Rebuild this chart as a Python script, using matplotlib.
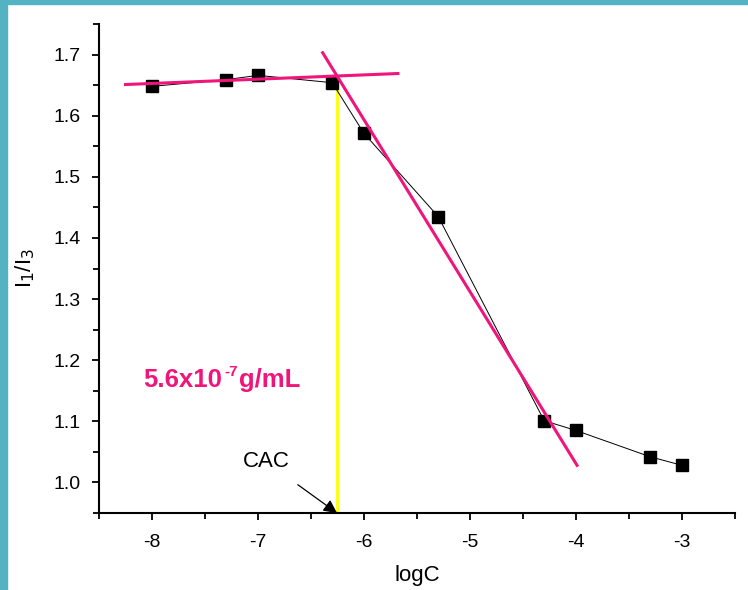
import matplotlib
matplotlib.use('Agg')
import matplotlib.pyplot as plt
from matplotlib.patches import Rectangle
from matplotlib.ticker import MultipleLocator

plt.rcParams['font.family'] = ['Liberation Sans', 'DejaVu Sans']
plt.rcParams['axes.unicode_minus'] = False

# measured points
log_c = [-8, -7.3, -7, -6.3, -6, -5.3, -4.3, -4, -3.3, -3]
ratio = [1.648, 1.659, 1.666, 1.654, 1.571, 1.435, 1.101, 1.085, 1.042, 1.028]

# fitted lines (end points)
flat_x = [-8.25, -5.68]
flat_y = [1.651, 1.669]
steep_x = [-6.39, -3.99]
steep_y = [1.703, 1.028]

cac_x = -6.255
cac_y = 1.664
pink = '#F0157A'

fig = plt.figure(figsize=(7.48, 5.9), dpi=100)
ax = fig.add_axes([0.1324, 0.1305, 0.8502, 0.8288])

ax.plot(log_c, ratio, color='black', lw=0.7, marker='s', ms=8.5, zorder=3)
ax.plot(flat_x, flat_y, color=pink, lw=2.2, zorder=4)
ax.plot(steep_x, steep_y, color=pink, lw=2.2, zorder=4)
ax.plot([cac_x, cac_x], [0.95, cac_y], color='#FFFF00', lw=2, zorder=2)

# CAC value label: base text, superscript exponent, unit
t1 = ax.text(-8.08, 1.168, '5.6x10', color=pink, fontsize=18.5,
             fontweight='bold', va='center', ha='left')
t2 = ax.annotate('-7', xy=(1, 1), xycoords=t1, xytext=(1.5, 2),
                 textcoords='offset points', color=pink, fontsize=11,
                 fontweight='bold', va='top', ha='left')
ax.annotate('g/mL', xy=(1, 0), xycoords=(t2, t1), xytext=(1, 0),
            textcoords='offset points', color=pink, fontsize=18.5,
            fontweight='bold', va='bottom', ha='left')

ax.annotate('CAC', xy=(cac_x, 0.95), xytext=(-6.925, 1.034),
            fontsize=16, ha='center', va='center',
            arrowprops=dict(arrowstyle='-|>', color='black', lw=0.9,
                            shrinkA=12, shrinkB=0, mutation_scale=20))

ax.set_xlim(-8.5, -2.5)
ax.set_ylim(0.95, 1.75)
ax.set_xticks([-8, -7, -6, -5, -4, -3])
ax.set_yticks([1.0, 1.1, 1.2, 1.3, 1.4, 1.5, 1.6, 1.7])
ax.xaxis.set_minor_locator(MultipleLocator(0.5))
ax.yaxis.set_minor_locator(MultipleLocator(0.05))
ax.tick_params(which='both', direction='out', width=1.3, labelsize=14)
ax.tick_params(which='major', length=5)
ax.tick_params(which='minor', length=4)
ax.tick_params(axis='x', pad=10)
ax.tick_params(axis='y', pad=8)
for side in ['top', 'right']:
    ax.spines[side].set_visible(False)
for side in ['left', 'bottom']:
    ax.spines[side].set_linewidth(1.5)

ax.set_xlabel('logC', fontsize=16, labelpad=10)
ax.set_ylabel(r'I$_1$/I$_3$', fontsize=16, labelpad=12)

# teal frame on left and top edges
fig.patches.append(Rectangle((0, 0), 7 / 748, 1, transform=fig.transFigure,
                             color='#53B3C3', zorder=0))
fig.patches.append(Rectangle((0, 1 - 4 / 590), 1, 4 / 590, transform=fig.transFigure,
                             color='#53B3C3', zorder=0))

fig.savefig('out.png', dpi=100)
